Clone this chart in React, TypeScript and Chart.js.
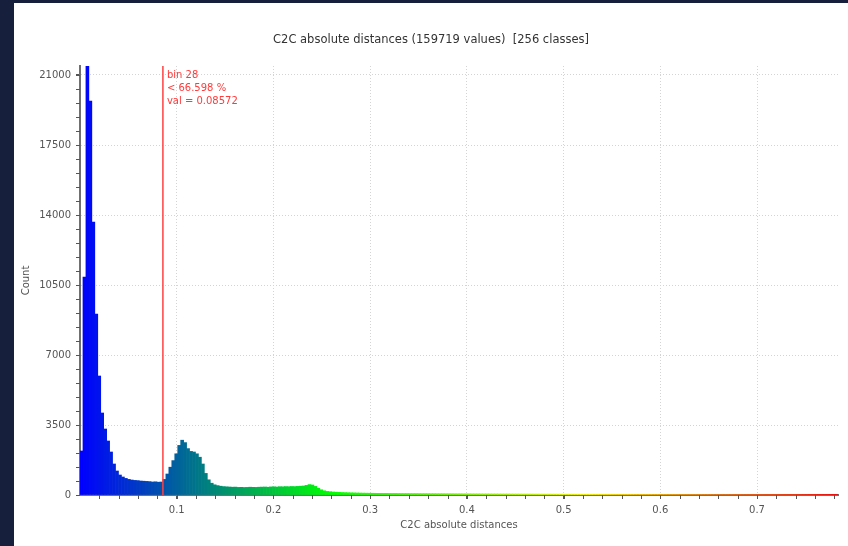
import { useEffect, useRef } from "react";
import { Chart, registerables } from "chart.js";

Chart.register(...registerables);

// ---- data ----
const TITLE = "C2C absolute distances (159719 values)  [256 classes]";
const X_TITLE = "C2C absolute distances";
const Y_TITLE = "Count";
const X_MIN = 0;
const X_MAX = 0.78372;
const Y_MAX = 21450;
const X_TICKS = [0.1, 0.2, 0.3, 0.4, 0.5, 0.6, 0.7];
const Y_TICKS = [0, 3500, 7000, 10500, 14000, 17500, 21000];
const MARKER_BIN = 28;
const MARKER_PCT = "66.598";
const MARKER_VAL = 0.08572;

const COUNTS = [
  2200, 10900, 21450, 19700, 13650, 9050, 5950, 4100, 3300, 2700, 2150, 1550, 1200, 1000, 900, 830,
  780, 750, 730, 720, 700, 690, 680, 670, 650, 660, 640, 650, 780, 1050, 1390, 1720,
  2060, 2480, 2740, 2620, 2320, 2180, 2150, 2060, 1890, 1550, 1080, 760, 590, 510, 470, 440,
  420, 410, 400, 390, 395, 380, 385, 375, 380, 390, 385, 380, 390, 395, 400, 390,
  405, 410, 400, 415, 410, 420, 415, 425, 420, 430, 440, 450, 480, 520, 500, 430,
  340, 260, 210, 180, 165, 150, 140, 132, 125, 120, 115, 110, 106, 102, 98, 95,
  92, 90, 88, 86, 85, 84, 82, 83, 80, 79, 80, 78, 77, 76, 77, 75,
  74, 75, 73, 72, 72, 71, 70, 71, 69, 68, 69, 67, 66, 67, 65, 64,
  65, 63, 62, 63, 61, 60, 61, 59, 58, 59, 57, 56, 57, 55, 55, 54,
  55, 53, 52, 53, 51, 51, 50, 51, 49, 48, 49, 47, 47, 46, 47, 45,
  45, 44, 45, 43, 43, 42, 43, 41, 41, 40, 41, 39, 39, 38, 39, 38,
  37, 38, 36, 36, 37, 35, 35, 36, 34, 34, 35, 33, 33, 34, 32, 32,
  33, 31, 31, 32, 30, 31, 30, 29, 30, 29, 28, 29, 28, 28, 27, 28,
  27, 27, 26, 27, 26, 26, 25, 26, 25, 25, 24, 25, 24, 24, 23, 24,
  23, 23, 22, 23, 22, 22, 21, 22, 21, 21, 20, 21, 20, 20, 19, 20,
  19, 19, 18, 19, 18, 18, 17, 18, 17, 17, 16, 17, 16, 16, 15, 16,
];

// CloudCompare-like "Blue > Green > Yellow > Red" colour scale
function scaleColor(f: number): string {
  const stops = [
    [0, 0, 255],
    [0, 255, 0],
    [255, 255, 0],
    [255, 0, 0],
  ];
  const p = Math.max(0, Math.min(1, f)) * 3;
  const k = Math.min(2, Math.floor(p));
  const t = p - k;
  const a = stops[k];
  const b = stops[k + 1];
  const c = a.map((v, i) => Math.round(v + (b[i] - v) * t));
  return `rgb(${c[0]},${c[1]},${c[2]})`;
}

const FONT = "'DejaVu Sans', sans-serif";

export default function App() {
  const ref = useRef<HTMLCanvasElement | null>(null);

  useEffect(() => {
    const canvas = ref.current;
    if (!canvas) return;
    const n = COUNTS.length;
    const binW = (X_MAX - X_MIN) / n;
    const points = COUNTS.map((c, i) => ({ x: X_MIN + (i + 0.5) * binW, y: c }));
    const colors = COUNTS.map((_, i) => scaleColor((i + 0.5) / n));

    const overlay = {
      id: "overlay",
      afterDatasetsDraw(chart: any) {
        const { ctx, chartArea, scales } = chart;
        const x = scales.x.getPixelForValue(MARKER_VAL);
        ctx.save();
        ctx.strokeStyle = "#ff4040";
        ctx.lineWidth = 1.5;
        ctx.beginPath();
        ctx.moveTo(x, chartArea.top);
        ctx.lineTo(x, chartArea.bottom);
        ctx.stroke();
        ctx.fillStyle = "#ff3a3a";
        ctx.font = `10px ${FONT}`;
        ctx.textAlign = "left";
        ctx.textBaseline = "middle";
        ctx.fillText(`bin ${MARKER_BIN}`, x + 4, chartArea.top + 9);
        ctx.fillText(`< ${MARKER_PCT} %`, x + 4, chartArea.top + 22);
        ctx.fillText(`val = ${MARKER_VAL}`, x + 4, chartArea.top + 35.5);
        ctx.restore();
      },
      afterDraw(chart: any) {
        const { ctx, chartArea, scales } = chart;
        ctx.save();
        // title
        ctx.fillStyle = "#333";
        ctx.font = `11.5px ${FONT}`;
        ctx.textAlign = "center";
        ctx.textBaseline = "middle";
        ctx.fillText(TITLE, chart.width / 2, 37);
        // minor ticks
        ctx.strokeStyle = "#555";
        ctx.lineWidth = 1;
        ctx.beginPath();
        for (let v = 0; v <= Y_MAX + 1e-6; v += 700) {
          const y = Math.round(scales.y.getPixelForValue(v)) + 0.5;
          ctx.moveTo(chartArea.left - 4, y);
          ctx.lineTo(chartArea.left, y);
        }
        for (let k = 1; k * 0.02 <= X_MAX + 1e-9; k++) {
          const x = Math.round(scales.x.getPixelForValue(k * 0.02)) + 0.5;
          ctx.moveTo(x, chartArea.bottom);
          ctx.lineTo(x, chartArea.bottom + 4);
        }
        ctx.stroke();
        ctx.restore();
      },
    };

    const gridOpts = {
      color: "#d4d4d4",
      offset: false,
      tickColor: "#555",
      tickBorderDash: [],
      tickLength: 4,
      lineWidth: 1,
    };
    const borderOpts = { color: "#707070", width: 2, dash: [1, 2] };

    const chart = new Chart(canvas, {
      type: "bar",
      data: {
        datasets: [
          {
            data: points as any,
            backgroundColor: colors,
            borderWidth: 0,
            barPercentage: 1,
            categoryPercentage: 1,
            grouped: false,
          } as any,
        ],
      },
      options: {
        animation: false,
        responsive: false,
        maintainAspectRatio: false,
        layout: { padding: { top: 63, right: 10, left: 0, bottom: 0 } },
        plugins: {
          legend: { display: false },
          tooltip: { enabled: false },
          title: { display: false },
        },
        scales: {
          x: {
            type: "linear",
            min: X_MIN,
            max: X_MAX,
            offset: false,
            afterBuildTicks: (s: any) => {
              s.ticks = X_TICKS.map((v) => ({ value: v }));
            },
            afterFit: (s: any) => {
              s.height = 51;
            },
            ticks: {
              callback: (v: any) => String(v),
              color: "#555",
              font: { family: FONT, size: 10 },
              padding: 5,
              maxRotation: 0,
              autoSkip: false,
            },
            grid: gridOpts,
            border: borderOpts,
            title: {
              display: true,
              text: X_TITLE,
              color: "#555",
              font: { family: FONT, size: 10 },
              padding: { top: 0, bottom: 15 },
            },
          },
          y: {
            type: "linear",
            min: 0,
            max: Y_MAX,
            afterBuildTicks: (s: any) => {
              s.ticks = Y_TICKS.map((v) => ({ value: v }));
            },
            afterFit: (s: any) => {
              s.width = 66;
            },
            ticks: {
              callback: (v: any) => String(v),
              color: "#555",
              font: { family: FONT, size: 10 },
              padding: 5,
            },
            grid: gridOpts,
            border: borderOpts,
            title: {
              display: true,
              text: Y_TITLE,
              color: "#555",
              font: { family: FONT, size: 10 },
              padding: { top: 6, bottom: 0 },
            },
          },
        },
      } as any,
      plugins: [overlay],
    });
    return () => chart.destroy();
  }, []);

  return (
    <div
      style={{
        position: "fixed",
        left: 0,
        top: 0,
        width: 848,
        height: 546,
        background: "#161f3b",
        overflow: "hidden",
      }}
    >
      <div
        style={{
          position: "absolute",
          left: 14,
          top: 3,
          width: 834,
          height: 543,
          background: "#ffffff",
        }}
      >
        <canvas ref={ref} width={834} height={543} style={{ display: "block", width: 834, height: 543 }} />
      </div>
    </div>
  );
}
